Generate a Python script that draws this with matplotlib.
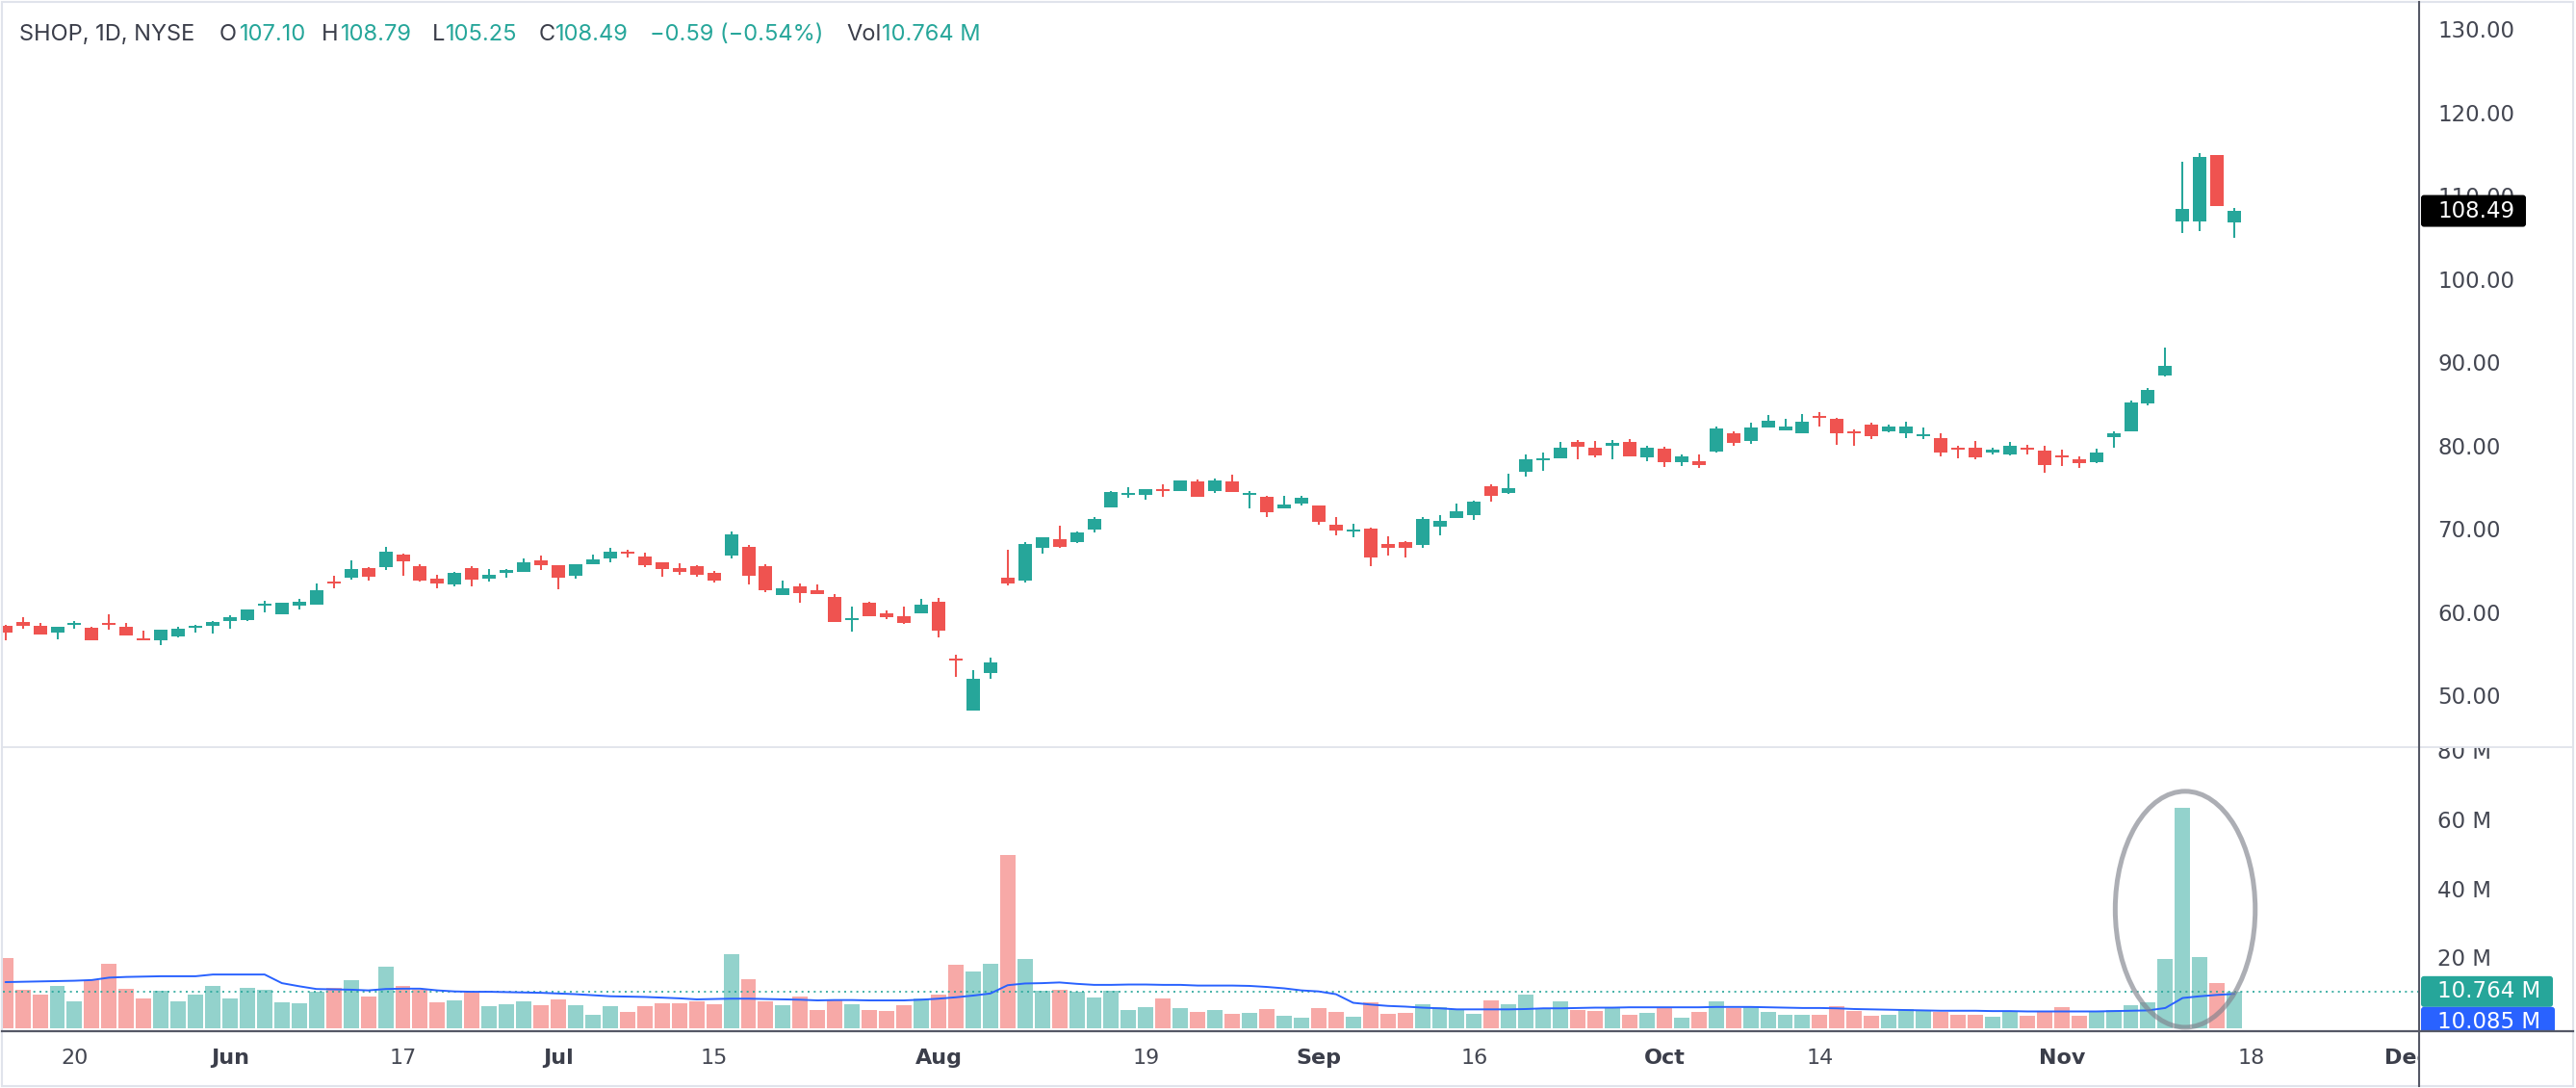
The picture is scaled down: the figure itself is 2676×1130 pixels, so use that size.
import numpy as np
import pandas as pd
import matplotlib
matplotlib.use("Agg")
import matplotlib.pyplot as plt
from matplotlib.patches import Ellipse, FancyBboxPatch, Rectangle
from matplotlib.lines import Line2D

plt.rcParams['font.family'] = ['DejaVu Sans']

# ---------------- data ----------------
holidays = ['2024-05-27', '2024-06-19', '2024-07-04', '2024-09-02', '2024-11-28']
dates = pd.bdate_range('2024-05-14', '2024-12-06', freq='C', holidays=holidays)

opens = [58.67, 59.14, 58.67, 57.90, 58.79, 58.44, 59.02, 58.56, 57.21, 56.98,
         57.44, 58.48, 58.67, 59.25, 59.37, 61.10, 60.06, 61.10, 61.22, 63.99,
         64.45, 65.61, 65.72, 67.23, 65.84, 64.34, 63.64, 65.61, 64.34, 65.03,
         65.15, 66.53, 65.96, 64.68, 66.07, 66.77, 67.57, 66.99, 66.30, 65.60,
         65.83, 65.03, 67.11, 68.15, 65.83, 62.40, 63.41, 62.94, 62.14, 59.40,
         61.44, 60.17, 59.82, 60.21, 61.56, 54.74, 48.53, 53.04, 64.45, 64.14,
         68.07, 69.07, 68.72, 70.23, 72.89, 74.39, 74.39, 75.08, 74.85, 76.01,
         74.85, 76.01, 74.39, 74.16, 72.77, 73.35, 73.12, 70.80, 70.03, 70.34,
         68.49, 68.72, 68.38, 70.57, 71.61, 71.96, 75.43, 74.62, 77.16, 78.55,
         78.78, 80.75, 80.05, 80.29, 80.75, 78.90, 79.94, 78.32, 78.43, 79.59,
         81.79, 80.86, 82.48, 82.14, 81.79, 83.87, 83.52, 82.02, 82.83, 82.02,
         81.79, 81.48, 81.21, 80.05, 80.05, 79.47, 79.24, 80.06, 79.71, 79.13,
         78.67, 78.32, 81.33, 82.02, 85.38, 88.73, 107.23, 107.23, 115.20, 107.10]
highs = [58.79, 59.71, 59.02, 58.56, 59.25, 58.56, 60.06, 59.02, 58.10, 58.21,
         58.56, 58.79, 59.25, 59.94, 60.64, 61.68, 61.45, 61.91, 63.76, 64.68,
         66.53, 65.72, 68.15, 67.34, 66.07, 64.80, 65.15, 65.84, 65.49, 65.49,
         66.77, 67.11, 65.96, 66.07, 67.23, 68.04, 67.80, 67.46, 66.30, 66.18,
         65.95, 65.26, 70.00, 68.38, 66.07, 64.10, 63.75, 63.64, 62.48, 60.98,
         61.56, 60.52, 60.98, 61.90, 62.02, 55.20, 53.35, 54.85, 67.80, 68.72,
         69.30, 70.69, 70.00, 71.73, 74.85, 75.31, 75.08, 75.66, 76.12, 76.24,
         76.35, 76.82, 74.85, 74.27, 74.27, 74.27, 73.12, 71.73, 70.92, 70.46,
         69.42, 68.84, 71.73, 71.96, 73.35, 73.70, 75.66, 76.93, 79.24, 79.48,
         80.75, 80.98, 80.86, 80.98, 81.09, 80.29, 80.17, 79.24, 79.24, 82.60,
         82.02, 83.06, 83.98, 83.52, 84.10, 84.33, 83.64, 82.25, 83.06, 82.83,
         83.17, 82.48, 81.79, 80.29, 80.86, 80.05, 80.75, 80.40, 80.29, 79.83,
         79.02, 79.94, 82.02, 85.72, 87.22, 92.08, 114.39, 115.43, 115.20, 108.79]
lows = [56.98, 58.36, 57.67, 57.09, 58.36, 56.98, 58.25, 57.56, 56.98, 56.40,
        57.32, 57.90, 57.79, 58.36, 59.25, 60.29, 60.06, 60.64, 61.22, 63.18,
        64.22, 64.11, 65.38, 64.68, 63.99, 63.18, 63.41, 63.41, 63.99, 64.45,
        65.15, 65.38, 63.07, 64.34, 66.07, 66.30, 66.88, 65.72, 64.57, 64.83,
        64.60, 63.91, 66.76, 63.68, 62.75, 62.40, 61.48, 62.52, 59.17, 58.01,
        59.86, 59.51, 58.94, 60.21, 57.32, 52.58, 48.53, 52.35, 63.56, 63.91,
        67.38, 68.04, 68.61, 69.88, 72.89, 74.04, 73.81, 74.16, 74.85, 74.16,
        74.62, 74.74, 72.77, 71.73, 72.77, 73.12, 70.81, 69.53, 69.30, 65.83,
        67.11, 66.87, 68.03, 69.53, 71.61, 71.38, 73.58, 74.50, 76.59, 77.28,
        78.78, 78.67, 78.90, 78.67, 79.01, 78.43, 77.74, 77.86, 77.63, 79.47,
        80.29, 80.52, 82.48, 82.14, 81.79, 82.60, 80.40, 80.29, 81.09, 81.90,
        81.21, 81.09, 79.01, 78.78, 78.67, 79.24, 79.13, 79.25, 77.05, 77.86,
        77.63, 78.21, 80.06, 82.02, 85.15, 88.61, 105.84, 106.07, 109.08, 105.25]
closes = [57.90, 58.67, 57.67, 58.56, 59.02, 56.98, 58.79, 57.56, 56.98, 58.21,
          58.33, 58.67, 59.14, 59.71, 60.64, 61.33, 61.45, 61.56, 62.95, 63.76,
          65.49, 64.57, 67.57, 66.42, 64.11, 63.76, 65.03, 64.22, 64.80, 65.38,
          66.30, 65.96, 64.45, 66.07, 66.65, 67.57, 67.34, 65.96, 65.49, 65.18,
          64.83, 64.14, 69.65, 64.72, 62.98, 63.18, 62.64, 62.52, 59.17, 59.59,
          59.86, 59.75, 59.05, 61.21, 58.13, 54.54, 52.31, 54.27, 63.79, 68.49,
          69.30, 68.15, 69.88, 71.50, 74.74, 74.62, 75.08, 74.85, 76.12, 74.16,
          76.12, 74.74, 74.62, 72.31, 73.23, 74.04, 71.15, 70.11, 70.23, 66.87,
          68.03, 68.03, 71.50, 71.27, 72.42, 73.58, 74.27, 75.20, 78.67, 78.78,
          80.05, 80.17, 79.13, 80.63, 79.01, 80.05, 78.32, 79.01, 77.97, 82.37,
          80.63, 82.48, 83.29, 82.60, 83.17, 83.64, 81.79, 81.79, 81.44, 82.60,
          82.60, 81.67, 79.47, 79.82, 78.90, 79.82, 80.29, 79.83, 77.98, 78.90,
          78.21, 79.48, 81.79, 85.49, 86.99, 89.88, 108.73, 114.97, 109.08, 108.49]
volumes = [20.5, 11.3, 9.9, 12.4, 8.0, 14.1, 18.8, 11.6, 8.8, 11.0,
           8.0, 9.9, 12.4, 8.8, 11.9, 11.3, 7.7, 7.4, 10.7, 11.9,
           14.1, 9.4, 18.0, 12.4, 11.3, 7.7, 8.2, 10.7, 6.6, 7.1,
           8.0, 6.9, 8.5, 6.9, 4.1, 6.6, 4.9, 6.6, 7.4, 7.4,
           8.0, 7.1, 21.6, 14.4, 8.0, 6.9, 9.4, 5.5, 8.5, 7.1,
           5.5, 5.2, 6.9, 8.8, 9.9, 18.5, 16.6, 18.8, 50.2, 20.2,
           11.0, 11.3, 10.7, 9.1, 11.0, 5.5, 6.3, 8.8, 6.0, 4.9,
           5.5, 4.4, 4.6, 5.7, 3.8, 3.2, 6.0, 4.9, 3.5, 7.7,
           4.4, 4.6, 7.1, 6.3, 5.7, 4.4, 8.2, 7.1, 9.9, 5.7,
           8.0, 5.5, 5.2, 6.0, 4.1, 4.6, 6.3, 3.2, 4.9, 8.0,
           6.0, 6.3, 4.9, 4.1, 4.1, 4.1, 6.6, 5.2, 3.8, 4.1,
           5.7, 5.5, 4.9, 4.1, 4.1, 3.5, 4.9, 3.8, 4.9, 6.3,
           3.8, 4.9, 5.5, 6.9, 7.7, 20.2, 64.1, 20.7, 13.2, 10.764]
vol_ma = [13.5, 13.6, 13.7, 13.8, 13.9, 14.1, 14.8, 15.0, 15.1, 15.2,
          15.2, 15.2, 15.7, 15.7, 15.7, 15.7, 13.2, 12.3, 11.5, 11.4,
          11.3, 11.1, 11.5, 11.6, 11.6, 11.1, 10.8, 10.7, 10.7, 10.6,
          10.5, 10.4, 10.2, 10.0, 9.7, 9.4, 9.3, 9.2, 9.0, 8.8,
          8.5, 8.6, 8.7, 8.7, 8.6, 8.5, 8.4, 8.2, 8.3, 8.3,
          8.2, 8.2, 8.2, 8.4, 8.7, 9.1, 9.6, 10.2, 12.6, 13.1,
          13.2, 13.4, 13.0, 12.7, 12.7, 12.8, 12.8, 12.7, 12.7, 12.5,
          12.5, 12.5, 12.4, 12.1, 11.7, 11.1, 10.8, 10.0, 7.5, 7.0,
          6.6, 6.4, 6.1, 5.9, 5.6, 5.6, 5.6, 5.6, 5.7, 5.9,
          5.9, 6.0, 6.1, 6.1, 6.2, 6.2, 6.2, 6.2, 6.2, 6.3,
          6.3, 6.3, 6.2, 6.1, 6.0, 6.0, 5.9, 5.7, 5.6, 5.5,
          5.4, 5.3, 5.2, 5.2, 5.2, 5.1, 5.1, 5.0, 5.0, 5.0,
          5.0, 5.0, 5.1, 5.2, 5.3, 6.0, 8.9, 9.4, 9.8, 10.085]

price_ticks = [50, 60, 70, 80, 90, 100, 110, 120, 130]
vol_ticks = [20, 40, 60, 80]
time_labels = [('2024-05-20', '20', False), ('2024-06-03', 'Jun', True),
               ('2024-06-17', '17', False), ('2024-07-01', 'Jul', True),
               ('2024-07-15', '15', False), ('2024-08-01', 'Aug', True),
               ('2024-08-19', '19', False), ('2024-09-03', 'Sep', True),
               ('2024-09-16', '16', False), ('2024-10-01', 'Oct', True),
               ('2024-10-14', '14', False), ('2024-11-01', 'Nov', True),
               ('2024-11-18', '18', False), ('2024-12-02', 'Dec', True)]
header = [('SHOP, 1D, NYSE', 'k'), ('O', 'k'), ('107.10', 'g'), ('H', 'k'), ('108.79', 'g'),
          ('L', 'k'), ('105.25', 'g'), ('C', 'k'), ('108.49', 'g'),
          ('\u22120.59 (\u22120.54%)', 'g'), ('Vol', 'k'), ('10.764 M', 'g')]
header_x = [20, 228, 249, 334, 354, 449, 463, 560, 577, 675, 879, 916]

# ---------------- styling ----------------
W, H, DPI = 2676, 1130, 100
GREEN, RED = '#26a69a', '#ef5350'
VGREEN, VRED = '#93d2cc', '#f7a9a7'
TXT = '#434651'
DARK = '#3b3e4a'
FS = 16.5

opens = np.array(opens); highs = np.array(highs); lows = np.array(lows)
closes = np.array(closes); volumes = np.array(volumes); vol_ma = np.array(vol_ma)
n = len(opens)
x = np.arange(n)
up = closes >= opens

fig = plt.figure(figsize=(W / DPI, H / DPI), dpi=DPI)
fig.patch.set_facecolor('white')

def fx(px):
    return px / W

def fy(py):
    return 1 - py / H

XL = (-0.148, 139.685)
PL = (44.104, 133.468)
VL = (-0.446, 81.59)

ax_p = fig.add_axes([fx(3), fy(776), fx(2513) - fx(3), fy(3) - fy(776)])
ax_v = fig.add_axes([fx(3), fy(1070), fx(2513) - fx(3), fy(776) - fy(1070)])
for a in (ax_p, ax_v):
    a.set_xlim(*XL)
    a.axis('off')
ax_p.set_ylim(*PL)
ax_v.set_ylim(*VL)

# candles
ccol = np.where(up, GREEN, RED)
ax_p.vlines(x, lows, highs, colors=ccol, linewidth=1.45, zorder=2)
body_lo = np.minimum(opens, closes)
body_h = np.maximum(np.abs(closes - opens), 0.2)
ax_p.bar(x, body_h, bottom=body_lo, width=0.78, color=ccol, linewidth=0, zorder=3)

# volume
vcol = np.where(up, VGREEN, VRED)
ax_v.bar(x, volumes, width=0.89, color=vcol, linewidth=0, zorder=2)
ax_v.plot(x, vol_ma, color='#2962ff', lw=1.4, zorder=4, solid_capstyle='round')
ax_v.axhline(volumes[-1], color=GREEN, lw=1.2, ls=(0, (1.2, 2.6)), zorder=3)
spike = int(np.argmax(volumes))
ax_v.add_patch(Ellipse((spike + 0.15, 34.6), 8.1, 68.4, fill=False,
                       edgecolor='#80838d', alpha=0.65, lw=3.6, zorder=5, clip_on=False))

# price scale
ax_ps = fig.add_axes([fx(2514), fy(776), fx(2676) - fx(2514), fy(3) - fy(776)])
ax_ps.set_xlim(2514, 2676); ax_ps.set_ylim(*PL); ax_ps.axis('off')
for t in price_ticks:
    ax_ps.text(2532, t, f'{t:.2f}', color=TXT, fontsize=FS, va='center', ha='left', clip_on=True)
ph = 33 / 8.65
ax_ps.add_patch(FancyBboxPatch((2515, closes[-1] - ph / 2), 109, ph,
                               boxstyle='round,pad=0,rounding_size=3', mutation_aspect=1 / 8.65,
                               fc='black', ec='none', zorder=5))
ax_ps.text(2532, closes[-1], f'{closes[-1]:.2f}', color='white', fontsize=FS,
           va='center', ha='left', zorder=6)

# volume scale
ax_vs = fig.add_axes([fx(2514), fy(1070), fx(2676) - fx(2514), fy(776) - fy(1070)])
ax_vs.set_xlim(2514, 2676); ax_vs.set_ylim(*VL); ax_vs.axis('off')
for t in vol_ticks:
    ax_vs.text(2532, t, f'{t} M', color=TXT, fontsize=FS, va='center', ha='left', clip_on=True)
vh = 32 / 3.585
v0 = volumes[-1]
ax_vs.add_patch(FancyBboxPatch((2515, v0 - vh / 2), 137, vh,
                               boxstyle='round,pad=0,rounding_size=3', mutation_aspect=1 / 3.585,
                               fc=GREEN, ec='none', zorder=5))
ax_vs.text(2532, v0, f'{v0:.3f} M', color='white', fontsize=FS, va='center', ha='left', zorder=6)
b_top = v0 - vh / 2
ax_vs.add_patch(FancyBboxPatch((2515, b_top - vh), 139, vh,
                               boxstyle='round,pad=0,rounding_size=3', mutation_aspect=1 / 3.585,
                               fc='#2962ff', ec='none', zorder=5))
ax_vs.text(2532, b_top - vh / 2, f'{vol_ma[-1]:.3f} M', color='white', fontsize=FS,
           va='center', ha='left', zorder=6, clip_on=True)

# time axis
ax_t = fig.add_axes([fx(3), fy(1128), fx(2513) - fx(3), fy(1072) - fy(1128)])
ax_t.set_xlim(*XL); ax_t.set_ylim(0, 1); ax_t.axis('off')
date_index = {d.strftime('%Y-%m-%d'): i for i, d in enumerate(dates)}
for d, lab, bold in time_labels:
    ax_t.text(date_index[d], 0.52, lab, color=DARK if bold else TXT, fontsize=16,
              fontweight='bold' if bold else 'normal', ha='center', va='center', clip_on=True)

# overlay: frame, separators, header
ax_o = fig.add_axes([0, 0, 1, 1], zorder=10)
ax_o.set_xlim(0, W); ax_o.set_ylim(H, 0); ax_o.axis('off')
ax_o.add_patch(Rectangle((2, 2), W - 5, H - 4, fill=False, ec='#e0e3eb', lw=1.5))
ax_o.add_line(Line2D([2, W - 3], [776, 776], color='#e0e3eb', lw=1.3))
ax_o.add_line(Line2D([2513, 2513], [2, H - 2], color='#555866', lw=1.5))
ax_o.add_line(Line2D([2, W - 3], [1071, 1071], color='#555866', lw=1.6))
for (txt, c), hx in zip(header, header_x):
    ax_o.text(hx, 42, txt, color=DARK if c == 'k' else GREEN, fontsize=17,
              family=['Inter', 'DejaVu Sans'], ha='left', va='baseline')

fig.savefig('out.png', dpi=DPI, facecolor='white')
